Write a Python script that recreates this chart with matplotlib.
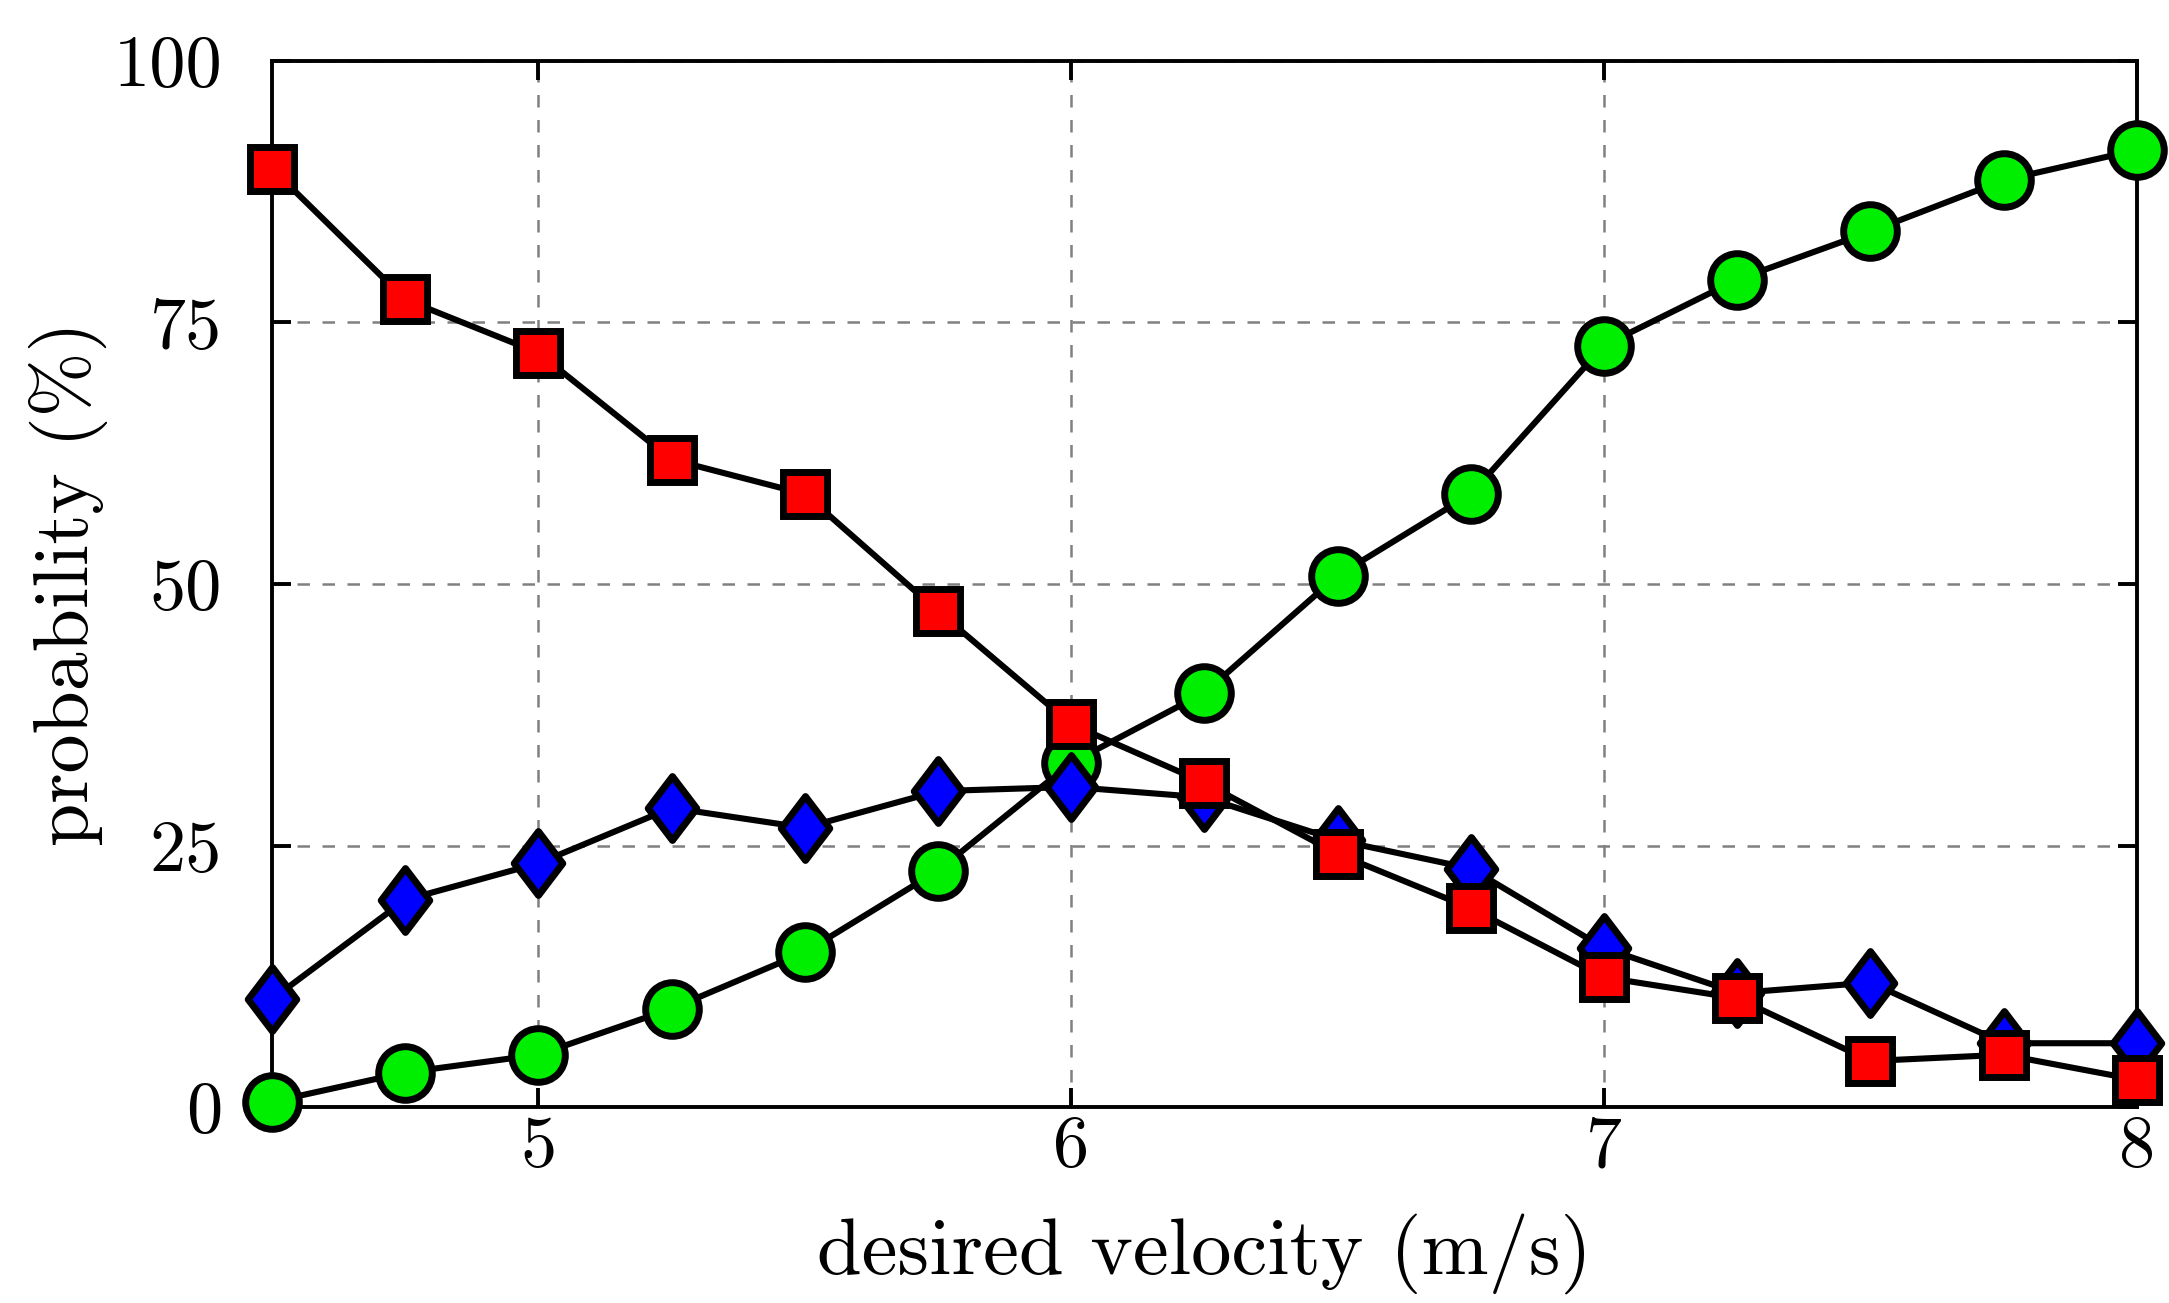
import matplotlib
matplotlib.use("Agg")
import matplotlib.pyplot as plt
from matplotlib.path import Path

plt.rcParams['mathtext.fontset'] = 'cm'
plt.rcParams['font.family'] = ['cmr10', 'DejaVu Serif']
plt.rcParams['axes.formatter.use_mathtext'] = True

velocity = [4.5, 4.75, 5.0, 5.25, 5.5, 5.75, 6.0, 6.25, 6.5, 6.75, 7.0, 7.25, 7.5, 7.75, 8.0]
red_sq = [89.7, 77.2, 72.1, 61.9, 58.6, 47.4, 36.6, 31.0, 24.2, 19.0, 12.4, 10.4, 4.4, 5.0, 2.6]
green_circ = [0.5, 3.3, 5.0, 9.4, 14.8, 22.6, 32.9, 39.6, 50.8, 58.6, 72.8, 79.1, 83.7, 88.6, 91.5]
blue_dia = [10.3, 19.8, 23.3, 28.6, 26.7, 30.2, 30.6, 29.6, 25.5, 22.8, 15.2, 10.9, 11.9, 6.1, 6.1]

xticks = [5, 6, 7, 8]
yticks = [0, 25, 50, 75, 100]

fig = plt.figure(figsize=(10.845, 6.515), dpi=200)
ax = fig.add_axes([0.1254, 0.1504, 0.8598, 0.8028])

diamond = Path([(0, 1), (0.76, 0), (0, -1), (-0.76, 0), (0, 1)],
               [Path.MOVETO, Path.LINETO, Path.LINETO, Path.LINETO, Path.CLOSEPOLY])

lw = 2.2
mew = 2.5
ax.plot(velocity, green_circ, color='black', lw=lw, marker='o', ms=19.3,
        mfc='#00EE00', mec='black', mew=mew, clip_on=False, zorder=3)
ax.plot(velocity, blue_dia, color='black', lw=lw, marker=diamond, ms=23,
        mfc='#0000FF', mec='black', mew=mew, clip_on=False, zorder=4)
ax.plot(velocity, red_sq, color='black', lw=lw, marker='s', ms=15.5,
        mfc='#FF0000', mec='black', mew=mew, clip_on=False, zorder=5)

ax.set_xlim(4.5, 8)
ax.set_ylim(0, 100)
ax.set_xticks(xticks)
ax.set_yticks(yticks)
ax.set_xticklabels([str(t) for t in xticks])
ax.set_yticklabels([str(t) for t in yticks])
ax.tick_params(direction='in', top=True, right=True, length=7, width=1.4,
               labelsize=26)
ax.tick_params(axis='x', pad=3)
ax.tick_params(axis='y', pad=18)
for s in ax.spines.values():
    s.set_linewidth(1.4)
ax.grid(True, color='gray', linestyle=(0, (5, 5)), linewidth=0.9)
ax.set_axisbelow(True)

ax.set_xlabel('desired velocity (m/s)', fontsize=29, labelpad=12)
ax.set_ylabel('probability (%)', fontsize=28, labelpad=2)

fig.savefig('out.png', dpi=200)
